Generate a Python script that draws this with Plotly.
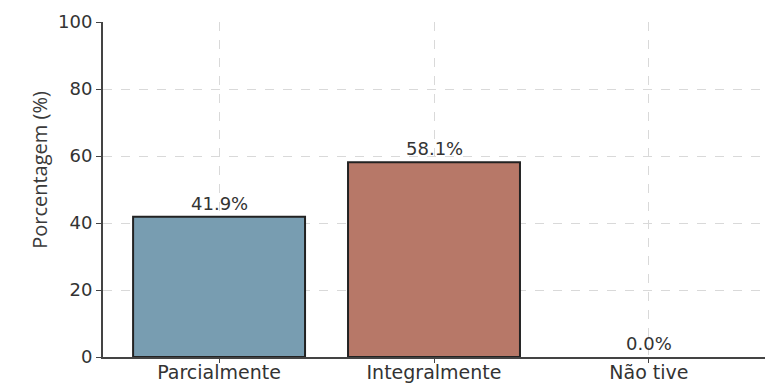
import plotly.graph_objects as go

categories = ["Parcialmente", "Integralmente", "Não tive"]
values = [41.9, 58.1, 0.0]
colors = ["#789db1", "#b77868", "#8fa98f"]
y_ticks = [0, 20, 40, 60, 80, 100]
y_title = "Porcentagem (%)"

fig = go.Figure()
fig.add_trace(go.Bar(
    x=categories, y=values, width=0.8,
    marker=dict(color=colors,
                line=dict(color="#222222", width=[2 if v > 0 else 0 for v in values])),
    showlegend=False,
))
for c, v in zip(categories, values):
    fig.add_annotation(x=c, y=v, text=f"{v:.1f}%", showarrow=False,
                       yanchor="bottom", yshift=1,
                       font=dict(family="DejaVu Sans", size=18, color="#333333"))

fig.add_annotation(xref="paper", yref="paper", x=-0.097, y=0.558,
                   text=y_title, textangle=-90, showarrow=False,
                   xanchor="center", yanchor="middle",
                   font=dict(family="Open Sans", size=20, color="#3a3a3a"))

fig.update_layout(
    width=768, height=388,
    margin=dict(l=103, r=3, t=22, b=31),
    paper_bgcolor="white", plot_bgcolor="white",
    font=dict(family="DejaVu Sans", size=18, color="#333333"),
)
fig.update_xaxes(
    range=[-0.54, 2.54], showline=True, linecolor="#444444", linewidth=2,
    showgrid=True, gridcolor="#d9d9d9", griddash="dash", gridwidth=1,
    ticks="outside", ticklen=4, tickcolor="#444444",
    tickfont=dict(size=19), zeroline=False, automargin=False,
    ticklabelstandoff=-7,
)
fig.update_yaxes(
    range=[0, 100], tickvals=y_ticks, showline=True, linecolor="#444444", linewidth=2,
    showgrid=True, gridcolor="#d9d9d9", griddash="dash", gridwidth=1,
    ticks="outside", ticklen=5, tickcolor="#444444",
    tickfont=dict(size=18), zeroline=False, automargin=False,
)
fig.write_html("out.html")
